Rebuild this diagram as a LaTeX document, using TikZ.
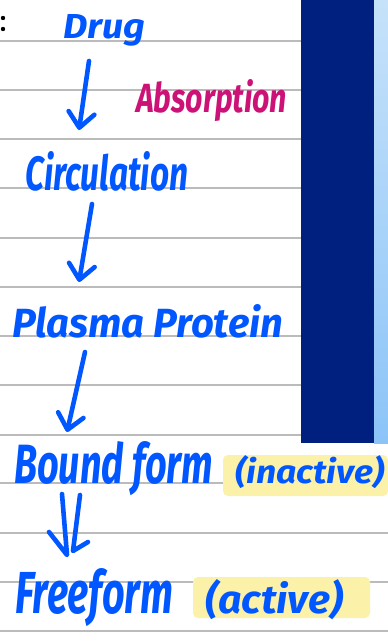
\documentclass[tikz,border=0pt]{standalone}
\usepackage{fontspec}
\setmainfont{Fira Sans}
\usetikzlibrary{arrows.meta}
\definecolor{ink}{HTML}{0057FF}
\definecolor{mag}{HTML}{CC1177}
\definecolor{navy}{HTML}{00207F}
\definecolor{rule}{HTML}{BBBBBB}
\definecolor{hl}{HTML}{FCF1A8}
\definecolor{ltop}{HTML}{C6E2FA}
\definecolor{lbot}{HTML}{8CC4F8}
\tikzset{
  hw/.style={anchor=base west, inner sep=0pt, text=ink, font=\bfseries\itshape},
  flow/.style={draw=ink, line width=4.6pt, line cap=round, line join=round},
  barb/.style={-{Straight Barb[length=15pt,width=26pt,line cap=round,line join=round]}},
  ruleline/.style={draw=rule, line width=1.3pt},
  mark hl/.style={fill=hl, draw=none, rounded corners=5pt},
}
\newcommand{\hwt}[3]{\resizebox{#1}{#2}{#3}}
\begin{document}
\begin{tikzpicture}[x=1pt,y=-1pt]
\useasboundingbox (0,0) rectangle (388,641);
\fill[white] (0,0) rectangle (388,641);
% ruled lines
\foreach \y in {41,90,139,188,238,287,336,385,435} \draw[ruleline] (0,\y) -- (301,\y);
\foreach \y in {483,533,582,631} \draw[ruleline] (0,\y) -- (388,\y);
% side panel
\fill[navy] (301,0) rectangle (374,443);
\shade[top color=ltop, bottom color=lbot] (374,0) rectangle (388,443);
% colon
\fill[black] (3,18) circle (2.2) (3,29) circle (2.2);
% highlights
\path[mark hl] (223,455) rectangle (388,496);
\path[mark hl] (193,577) rectangle (370,618);
% texts
\node[hw] (drug) at (63,38) {\hwt{82pt}{24pt}{Drug}};
\node[hw, text=mag] (abs) at (136,112) {\hwt{151pt}{33pt}{Absorption}};
\node[hw] (circ) at (25,190) {\hwt{163pt}{39pt}{Circulation}};
\node[hw] (plasma) at (12,337) {\hwt{271pt}{33pt}{Plasma Protein}};
\node[hw] (bound) at (14,483) {\hwt{199pt}{42pt}{Bound form}};
\node[hw] (inact) at (235,483) {\hwt{149pt}{28pt}{(inactive)}};
\node[hw] (free) at (15,613) {\hwt{158pt}{45pt}{Freeform}};
\node[hw] (act) at (205,613) {\hwt{138pt}{34pt}{(active)}};
% arrow end points
\coordinate (a1s) at (89,61);  \coordinate (a1e) at (79,130);
\coordinate (a2s) at (92,204); \coordinate (a2e) at (79,282);
\coordinate (a3s) at (85,352); \coordinate (a3e) at (67,432);
\coordinate (h1s) at (62,494); \coordinate (h1e) at (67,555); \coordinate (h1b) at (49,532);
\coordinate (h2s) at (80,495); \coordinate (h2e) at (73,551); \coordinate (h2b) at (88,542);
\draw[flow, barb] (a1s) -- (a1e);
\draw[flow, barb] (a2s) -- (a2e);
\draw[flow, barb] (a3s) -- (a3e);
\draw[flow] (h1s) -- (h1e) -- (h1b);
\draw[flow] (h2s) -- (h2e) -- (h2b);
\end{tikzpicture}
\end{document}
